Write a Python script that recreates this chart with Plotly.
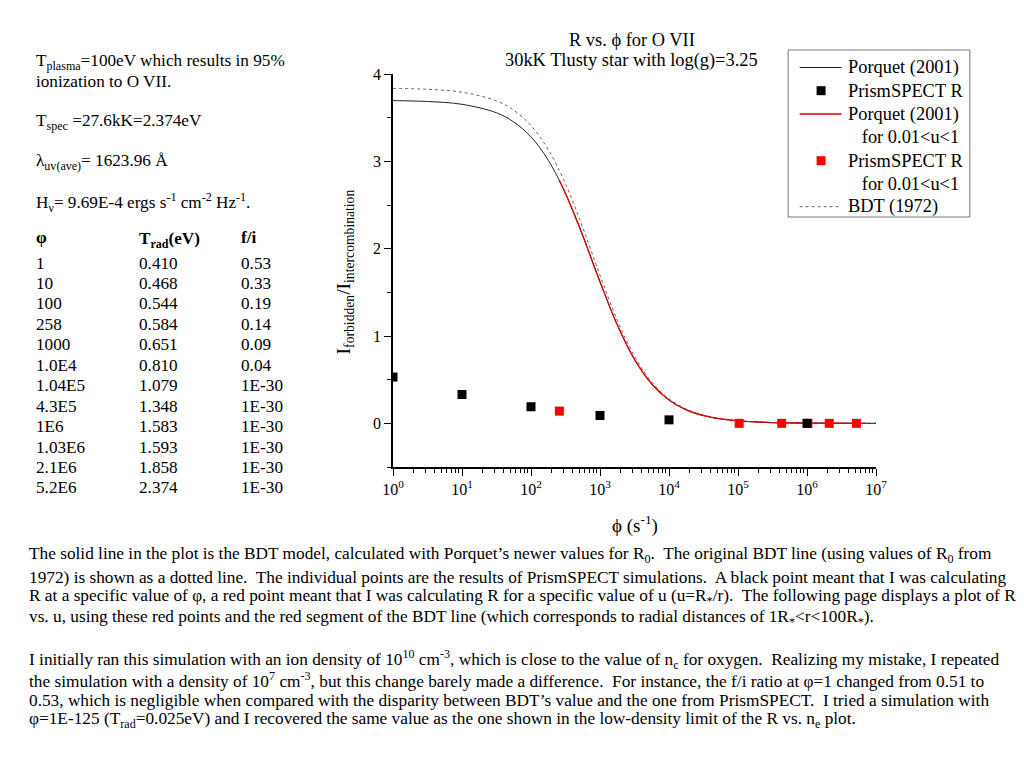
import plotly.graph_objects as go

# ---------------- data ----------------
# Porquet (2001) BDT curve, solid black
phi_porquet = [1, 3.16, 10, 31.6, 56.2, 100, 178, 316, 562, 1000, 1778, 3162,
               5623, 1.0e4, 1.78e4, 3.16e4, 5.62e4, 1.0e5, 3.16e5, 1.0e6, 3.16e6, 1.0e7]
R_porquet = [3.695, 3.685, 3.653, 3.556, 3.451, 3.280, 3.013, 2.633, 2.150, 1.621,
             1.128, 0.732, 0.451, 0.268, 0.155, 0.089, 0.051, 0.029, 0.009, 0.003,
             0.001, 0.0003]

# Red segment of the same curve (0.01<u<1)
phi_red = [258, 316, 562, 1000, 1778, 3162, 5623, 1.0e4, 1.78e4, 3.16e4, 5.62e4,
           1.0e5, 3.16e5, 1.0e6, 3.16e6, 7.5e6]
R_red = [2.78, 2.633, 2.150, 1.621, 1.128, 0.732, 0.451, 0.268, 0.155, 0.089,
         0.051, 0.029, 0.009, 0.003, 0.001, 0.0004]

# BDT (1972), dotted
phi_bdt = [1, 3.16, 10, 31.6, 56.2, 100, 178, 316, 562, 1000, 1778, 3162,
           5623, 1.0e4, 1.78e4, 3.16e4, 5.62e4, 1.0e5, 3.16e5, 1.0e6, 3.16e6, 1.0e7]
R_bdt = [3.835, 3.825, 3.792, 3.692, 3.585, 3.409, 3.134, 2.743, 2.243, 1.695,
         1.181, 0.768, 0.473, 0.281, 0.163, 0.094, 0.053, 0.030, 0.0095, 0.003,
         0.001, 0.0003]

# PrismSPECT points
phi_black = [1, 10, 100, 1000, 1.0e4, 1.0e6]
R_black = [0.53, 0.33, 0.19, 0.09, 0.04, 1e-30]
phi_redpts = [258, 1.04e5, 4.3e5, 1.03e6, 2.1e6, 5.2e6]
R_redpts = [0.14, 1e-30, 1e-30, 1e-30, 1e-30, 1e-30]

# side table
table_phi = ["1", "10", "100", "258", "1000", "1.0E4", "1.04E5", "4.3E5", "1E6",
             "1.03E6", "2.1E6", "5.2E6"]
table_trad = ["0.410", "0.468", "0.544", "0.584", "0.651", "0.810", "1.079", "1.348",
              "1.583", "1.593", "1.858", "2.374"]
table_fi = ["0.53", "0.33", "0.19", "0.14", "0.09", "0.04", "1E-30", "1E-30", "1E-30",
            "1E-30", "1E-30", "1E-30"]

x_tickvals = [1, 10, 100, 1e3, 1e4, 1e5, 1e6, 1e7]
x_ticktext = ["10<sup>%d</sup>" % i for i in range(8)]
x_minor_vals = [m * 10 ** d for d in range(7) for m in range(2, 10)]
y_tickvals = [0, 1, 2, 3, 4]

legend_labels = ["Porquet (2001)", "PrismSPECT R", "Porquet (2001)",
                 "   for 0.01&lt;u&lt;1", "PrismSPECT R", "   for 0.01&lt;u&lt;1",
                 "BDT (1972)"]

# ---------------- layout geometry (reference pixel coords) ----------------
PAGE_OFF = 8            # browser body margin
FW, FH = 1024 - PAGE_OFF, 768 - PAGE_OFF
L, Rr, T, B = 392.7, 876.5, 74.0, 467.0
W, H = Rr - L, B - T


def px(x):
    return (x - L) / W


def py(y):
    return (B - y) / H


FONT = "Liberation Serif, Times New Roman, serif"

fig = go.Figure()

fig.add_trace(go.Scatter(x=phi_bdt, y=R_bdt, mode="lines", name="BDT (1972)",
                         line=dict(color="#666666", width=1, dash="dot", shape="spline")))
fig.add_trace(go.Scatter(x=phi_porquet, y=R_porquet, mode="lines", name="Porquet (2001)",
                         line=dict(color="#222222", width=1, shape="spline")))
fig.add_trace(go.Scatter(x=phi_red, y=R_red, mode="lines",
                         name="Porquet (2001) for 0.01<u<1",
                         line=dict(color="#e00000", width=1.3, shape="spline")))
fig.add_trace(go.Scatter(x=phi_redpts, y=R_redpts, mode="markers",
                         name="PrismSPECT R for 0.01<u<1",
                         marker=dict(symbol="square", size=9, color="#ff0000")))
fig.add_trace(go.Scatter(x=phi_black, y=R_black, mode="markers", name="PrismSPECT R",
                         marker=dict(symbol="square", size=9, color="#000000")))

fig.update_layout(
    width=FW, height=FH,
    margin=dict(l=L - PAGE_OFF, r=1024 - Rr, t=T - PAGE_OFF, b=768 - B, pad=0),
    paper_bgcolor="white", plot_bgcolor="white",
    font=dict(family=FONT, size=16, color="black"),
    showlegend=False,
)

fig.update_xaxes(type="log", range=[0, 7], showline=True, linecolor="black", linewidth=1.5,
                 ticks="outside", ticklen=7, tickwidth=1.2, tickcolor="black",
                 tickvals=x_tickvals, ticktext=x_ticktext, showgrid=False, zeroline=False,
                 tickfont=dict(family=FONT, size=16),
                 minor=dict(ticks="outside", ticklen=4, tickwidth=1, tickcolor="black",
                            tickvals=x_minor_vals, showgrid=False))
fig.update_yaxes(range=[-0.5, 4.0], showline=True, linecolor="black", linewidth=1.5,
                 ticks="outside", ticklen=7, tickwidth=1.2, tickcolor="black",
                 tickvals=y_tickvals, showgrid=False, zeroline=False,
                 tickfont=dict(family=FONT, size=16),
                 minor=dict(ticks="outside", ticklen=4, tickwidth=1, tickcolor="black",
                            dtick=0.5, showgrid=False))

ann = []
shapes = []


def add_text(x, y, text, size=17.2, xanchor="left", yanchor="middle", angle=0):
    if xanchor == "left":
        x -= 2
    ann.append(dict(x=px(x), y=py(y), xref="paper", yref="paper", text=text,
                    showarrow=False, xanchor=xanchor, yanchor=yanchor, textangle=angle,
                    font=dict(family=FONT, size=size, color="black"), align="left"))


# title
add_text(632, 40, "R vs. ϕ for O VII", size=18.4, xanchor="center")
add_text(632, 61, "30kK Tlusty star with log(g)=3.25", size=18.4, xanchor="center")

# axis titles
add_text(635, 524, "ϕ (s<sup>-1</sup>)", size=19, xanchor="center")
add_text(345, 272, "I<sub>forbidden</sub>/I<sub>intercombination</sub>", size=19.5,
         xanchor="center", angle=-90)

# left info block
add_text(35, 62, "T<sub>plasma</sub>=100eV which results in 95%")
add_text(35, 81, "ionization to O VII.")
add_text(35, 122, "T<sub>spec</sub> =27.6kK=2.374eV")
add_text(35, 162, "λ<sub>uv(ave)</sub>= 1623.96 Å")
add_text(35, 202, "H<sub>ν</sub>= 9.69E-4 ergs s<sup>-1</sup> cm<sup>-2</sup> Hz<sup>-1</sup>.")

# table
add_text(35, 238, "<b>φ</b>")
add_text(138, 240, "<b>T<sub>rad</sub>(eV)</b>")
add_text(240, 238, "<b>f/i</b>")
for i in range(len(table_phi)):
    yy = 263 + i * 20.45
    add_text(35, yy, table_phi[i])
    add_text(138, yy, table_trad[i])
    add_text(240, yy, table_fi[i])

# bottom paragraph
para = [
    (555, "The solid line in the plot is the BDT model, calculated with Porquet’s newer values for R<sub>0</sub>.  The original BDT line (using values of R<sub>0</sub> from"),
    (577, "1972) is shown as a dotted line.  The individual points are the results of PrismSPECT simulations.  A black point meant that I was calculating"),
    (597, "R at a specific value of φ, a red point meant that I was calculating R for a specific value of u (u=R<sub>*</sub>/r).  The following page displays a plot of R"),
    (618, "vs. u, using these red points and the red segment of the BDT line (which corresponds to radial distances of 1R<sub>*</sub>&lt;r&lt;100R<sub>*</sub>)."),
    (659, "I initially ran this simulation with an ion density of 10<sup>10</sup> cm<sup>-3</sup>, which is close to the value of n<sub>c</sub> for oxygen.  Realizing my mistake, I repeated"),
    (680, "the simulation with a density of 10<sup>7</sup> cm<sup>-3</sup>, but this change barely made a difference.  For instance, the f/i ratio at φ=1 changed from 0.51 to"),
    (700, "0.53, which is negligible when compared with the disparity between BDT’s value and the one from PrismSPECT.  I tried a simulation with"),
    (720, "φ=1E-125 (T<sub>rad</sub>=0.025eV) and I recovered the same value as the one shown in the low-density limit of the R vs. n<sub>e</sub> plot."),
]
for yy, t in para:
    add_text(28, yy, t, size=17.3)

# ---------------- legend (box, keys, labels) ----------------
LEG_X0, LEG_X1, LEG_Y0, LEG_Y1 = 788.5, 970.5, 50, 217
leg_rows = [67.5, 90.7, 114, 137.3, 160.7, 183.5, 206.7]
shapes.append(dict(type="rect", xref="paper", yref="paper",
                   x0=px(LEG_X0), x1=px(LEG_X1), y0=py(LEG_Y1), y1=py(LEG_Y0),
                   line=dict(color="#777777", width=1), fillcolor="rgba(0,0,0,0)"))
# keys: 0 black line, 1 black square, 2 red line, 4 red square, 6 dotted
line_keys = {0: dict(color="#222222", width=1),
             2: dict(color="#e00000", width=1.3),
             6: dict(color="#666666", width=1, dash="dot")}
square_keys = {1: "#000000", 4: "#ff0000"}
for i, lw in line_keys.items():
    shapes.append(dict(type="line", xref="paper", yref="paper",
                       x0=px(800), x1=px(842), y0=py(leg_rows[i]), y1=py(leg_rows[i]),
                       line=lw))
for i, c in square_keys.items():
    shapes.append(dict(type="rect", xref="paper", yref="paper",
                       x0=px(821.5 - 4.5), x1=px(821.5 + 4.5),
                       y0=py(leg_rows[i] + 4.5), y1=py(leg_rows[i] - 4.5),
                       line=dict(width=0), fillcolor=c))
for i, lab in enumerate(legend_labels):
    add_text(848, leg_rows[i], lab, size=18.4)

fig.update_layout(annotations=ann, shapes=shapes)

fig.write_html("out.html")
